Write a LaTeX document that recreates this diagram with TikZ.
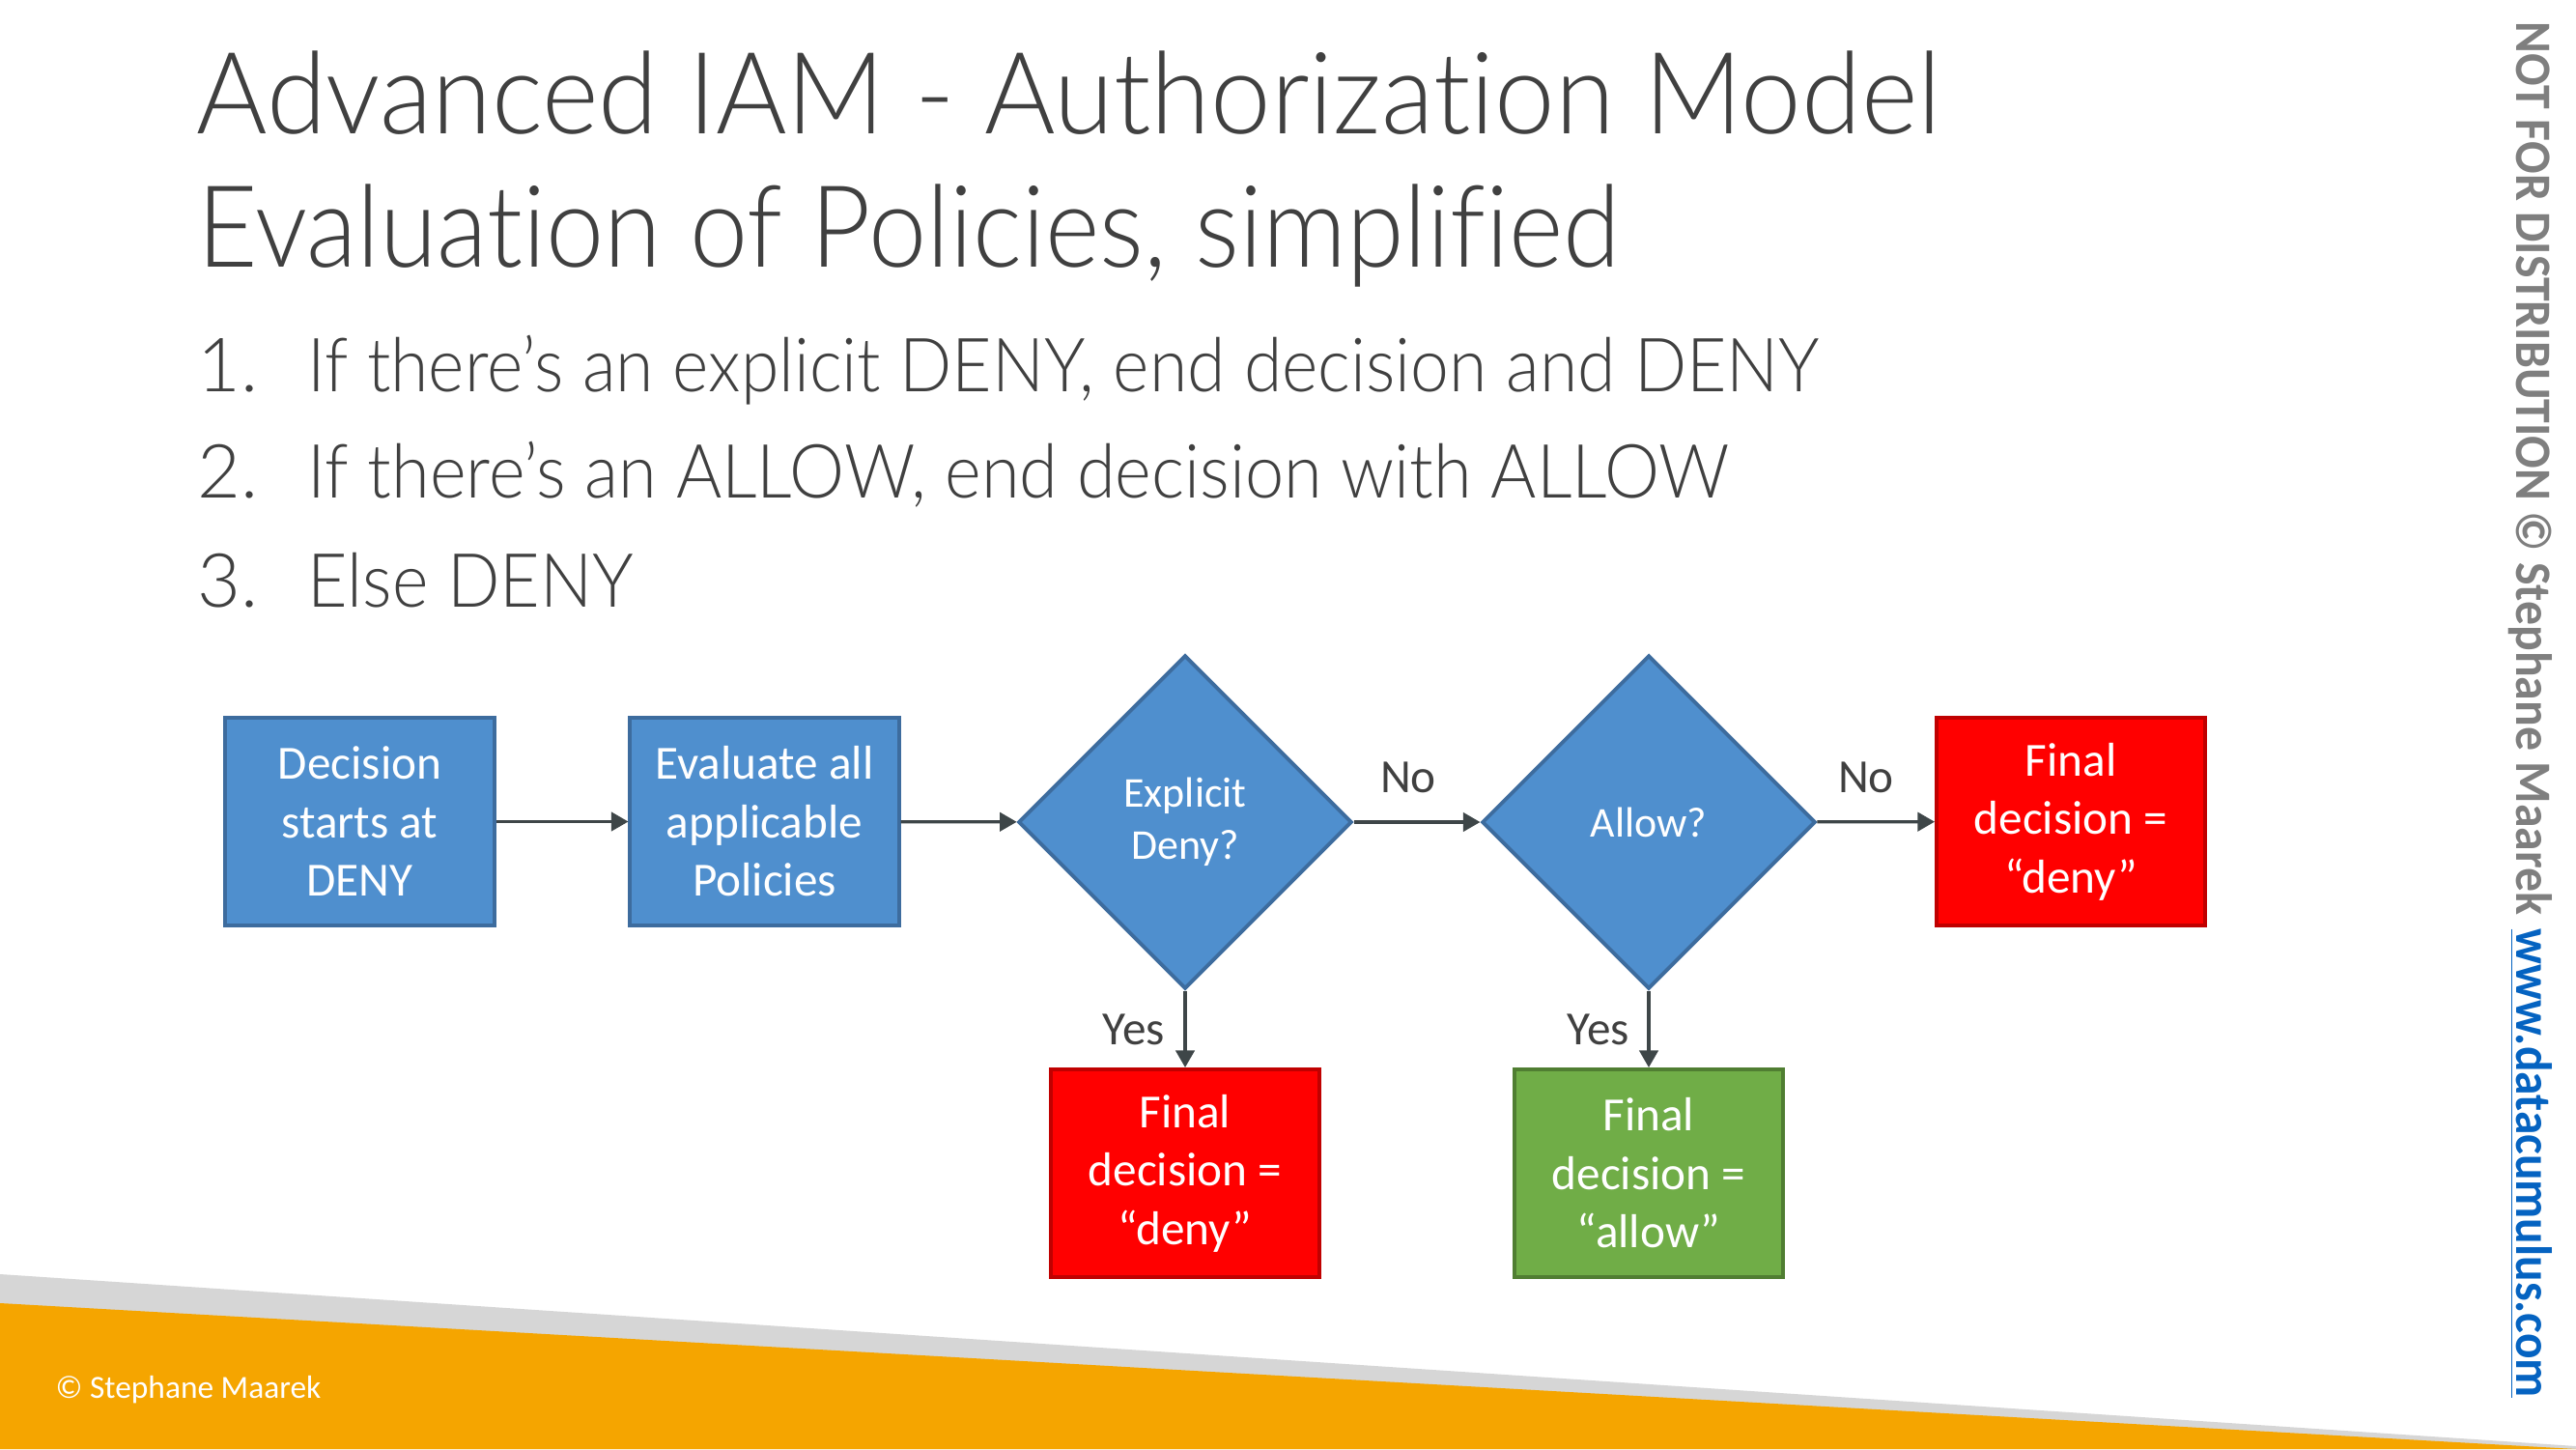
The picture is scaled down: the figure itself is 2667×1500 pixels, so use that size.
\documentclass[tikz,border=0pt]{standalone}
\usepackage{fontspec}
\usepackage{graphicx}
\setmainfont{Carlito}
\newfontfamily\titlefont{Lato Light}[Ligatures=NoCommon]
\usetikzlibrary{shapes.geometric,arrows.meta}

% set a line of text to a given width, keeping its height
\newcommand\fitwidth[2]{\resizebox{#1}{\height}{#2}}

\definecolor{boxblue}{HTML}{4F8FCE}
\definecolor{boxblueedge}{HTML}{3D6C9E}
\definecolor{denyred}{HTML}{FF0000}
\definecolor{denyedge}{HTML}{C00000}
\definecolor{allowgreen}{HTML}{70AD47}
\definecolor{allowedge}{HTML}{507E32}
\definecolor{inkgray}{HTML}{404040}
\definecolor{linegray}{HTML}{3E4648}
\definecolor{footorange}{HTML}{F5A500}
\definecolor{footband}{HTML}{D6D6D6}
\definecolor{markgray}{HTML}{7F7F7F}
\definecolor{linkblue}{HTML}{0563C1}

\tikzset{
  boxbase/.style={rectangle, line width=1.1pt, text=white, align=center,
    minimum width=2.78cm, minimum height=2.15cm, inner sep=0pt,
    font=\fontsize{14}{17.2}\selectfont},
  procbox/.style={boxbase, draw=boxblueedge, fill=boxblue},
  denybox/.style={boxbase, draw=denyedge, fill=denyred},
  allowbox/.style={boxbase, draw=allowedge, fill=allowgreen},
  decision/.style={diamond, draw=boxblueedge, fill=boxblue, line width=1.1pt,
    text=white, align=center, inner sep=0pt,
    minimum width=3.45cm, minimum height=3.45cm,
    font=\fontsize{12.5}{15.4}\selectfont},
  conn/.style={draw=linegray, line width=0.9pt,
    -{Triangle[length=5pt,width=5.5pt]}},
  edgelabel/.style={text=inkgray, font=\fontsize{14}{17}\selectfont, inner sep=0pt},
  titletext/.style={anchor=base west, inner sep=0pt, text=inkgray,
    font=\titlefont\fontsize{33.5}{40}\selectfont},
  listtext/.style={anchor=base west, inner sep=0pt, text=inkgray,
    font=\titlefont\fontsize{22}{26}\selectfont},
  sidetext/.style={rotate=-90, anchor=mid west, inner sep=0pt,
    font=\bfseries\fontsize{15}{18}\selectfont},
}

\begin{document}
\begin{tikzpicture}[x=0.01cm, y=-0.01cm]
  \useasboundingbox (0,0) rectangle (2667,1500);
  \fill[white] (0,0) rectangle (2667,1500);

  % footer wedges
  \fill[footband] (0,1319) -- (2667,1497) -- (2667,1500) -- (0,1500) -- cycle;
  \fill[footorange] (0,1349) -- (2667,1500) -- (0,1500) -- cycle;
  \node[anchor=mid west, inner sep=0pt, text=white,
        font=\fontsize{9.5}{11}\selectfont] (copy) at (57,1439) {© Stephane Maarek};

  % heading
  \node[titletext] (t1) at (203,139)
    {\fitwidth{18.05cm}{Advanced IAM - Authorization Model}};
  \node[titletext] (t2) at (204,276)
    {\fitwidth{14.72cm}{Evaluation of Policies, simplified}};

  % numbered rules
  \node[listtext] (n1) at (204,405) {1.};
  \node[listtext] (l1) at (318,405)
    {\fitwidth{15.64cm}{If there’s an explicit DENY, end decision and DENY}};
  \node[listtext] (n2) at (204,515) {2.};
  \node[listtext] (l2) at (318,515)
    {\fitwidth{14.71cm}{If there’s an ALLOW, end decision with ALLOW}};
  \node[listtext] (n3) at (204,628) {3.};
  \node[listtext] (l3) at (318,628) {\fitwidth{3.37cm}{Else DENY}};

  % flow chart
  \node[procbox] (start) at (372.5,850.5) {Decision\\starts at\\DENY};
  \node[procbox] (eval) at (791.5,850.5) {Evaluate all\\applicable\\Policies};
  \node[decision] (explicit) at (1227,851) {Explicit\\Deny?};
  \node[decision] (allow) at (1707,851) {Allow?};
  \node[denybox] (denyend) at (2144,850.5) {Final\\decision =\\“deny”};
  \node[denybox] (denyexp) at (1227,1214.5) {Final\\decision =\\“deny”};
  \node[allowbox] (allowed) at (1707,1214.5) {Final\\decision =\\“allow”};

  \draw[conn] (start) -- (eval);
  \draw[conn] (eval) -- (explicit);
  \draw[conn] (explicit) -- (allow);
  \draw[conn] (allow) -- (denyend);
  \draw[conn] (explicit) -- (denyexp);
  \draw[conn] (allow) -- (allowed);

  \node[edgelabel] (no1) at (1458,805) {No};
  \node[edgelabel] (no2) at (1932,805) {No};
  \node[edgelabel] (yes1) at (1174,1066) {Yes};
  \node[edgelabel] (yes2) at (1655,1066) {Yes};

  % side notice
  \node[sidetext, text=markgray] (notice) at (2614,22)
        {\fitwidth{9.24cm}{NOT FOR DISTRIBUTION © Stephane Maarek}};
  \node[sidetext, text=linkblue] (site) at (2614,961)
        {\fitwidth{4.85cm}{\underline{www.datacumulus.com}}};
\end{tikzpicture}
\end{document}
